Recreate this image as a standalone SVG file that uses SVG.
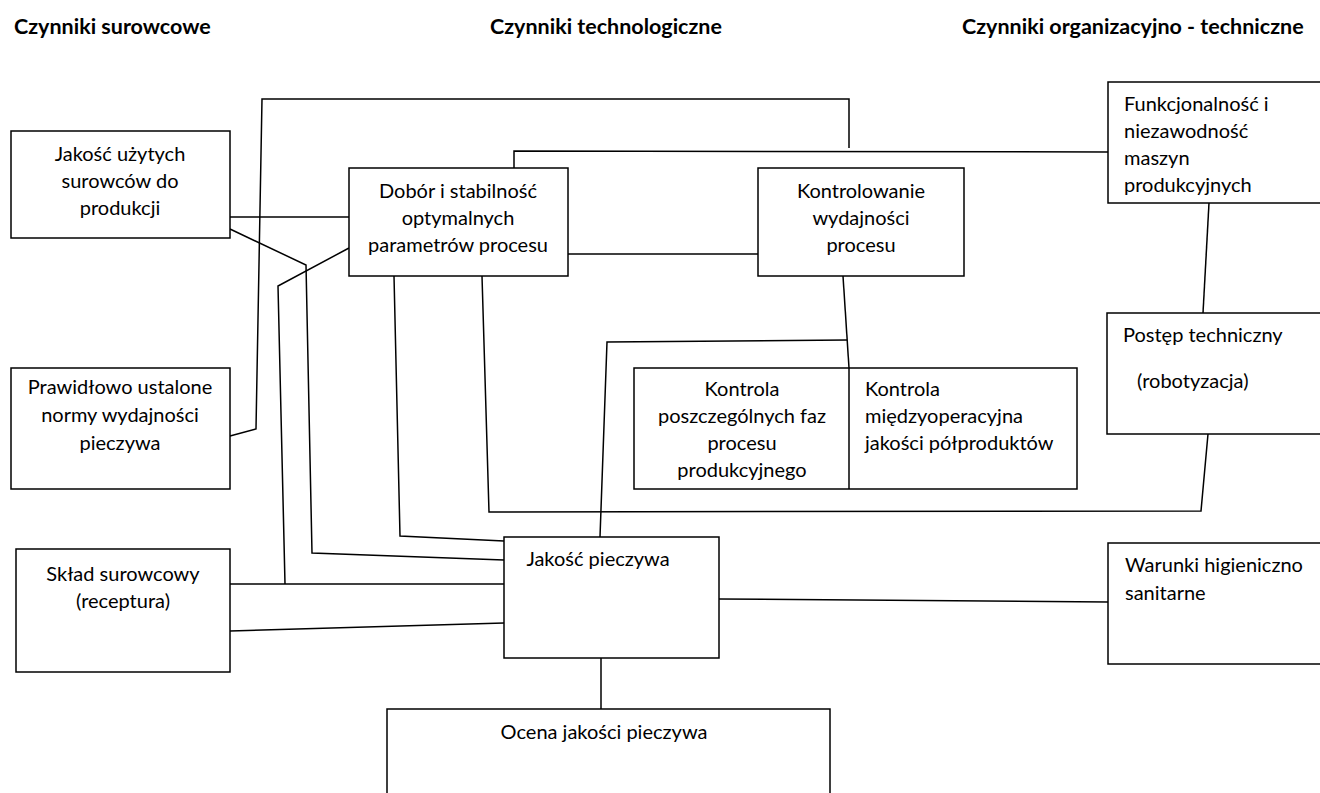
<svg xmlns="http://www.w3.org/2000/svg" width="1320" height="793" viewBox="0 0 1320 793">
<style>
.box{fill:#fff;stroke:#000;stroke-width:1.5}
.t{font-family:Lato,"Liberation Sans",sans-serif;font-size:20px;fill:#000}
.c{text-anchor:middle}
.h{font-family:Lato,"Liberation Sans",sans-serif;font-size:21.5px;font-weight:bold;fill:#000}
.ln{fill:none;stroke:#000;stroke-width:1.5}
</style>
<rect width="1320" height="793" fill="#fff"/>
<g id="titles">
<text class="h" x="14" y="34">Czynniki surowcowe</text>
<text class="h" x="490" y="34">Czynniki technologiczne</text>
<text class="h" x="962" y="34">Czynniki organizacyjno - techniczne</text>
</g>
<g id="connectors">
<polyline class="ln" points="230,436 256,429 262,99 849,99 849,148"/>
<polyline class="ln" points="514,168 514,151 1108,152"/>
<line class="ln" x1="230" y1="217" x2="349" y2="217"/>
<polyline class="ln" points="230,229 306,265 312,553 504,560"/>
<polyline class="ln" points="349,248 278,286 285,584"/>
<polyline class="ln" points="394,276 400,536 504,541"/>
<line class="ln" x1="568" y1="254" x2="758" y2="254"/>
<polyline class="ln" points="482,276 489,512 1201,511 1208,434"/>
<polyline class="ln" points="843,276 849,368"/>
<polyline class="ln" points="847,340 607,342 600,537"/>
<line class="ln" x1="1209" y1="203" x2="1203" y2="313"/>
<line class="ln" x1="230" y1="584" x2="504" y2="584"/>
<line class="ln" x1="230" y1="631" x2="504" y2="623"/>
<line class="ln" x1="719" y1="599" x2="1108" y2="602"/>
<line class="ln" x1="601" y1="658" x2="601" y2="709"/>
</g>
<g id="n-jakosc-surowcow">
<rect class="box" x="11" y="131" width="219" height="107"/>
<text class="t c" x="120" y="161">Jakość użytych</text>
<text class="t c" x="120" y="188">surowców do</text>
<text class="t c" x="120" y="215">produkcji</text>
</g>
<g id="n-normy">
<rect class="box" x="11" y="368" width="219" height="121"/>
<text class="t c" x="120" y="394">Prawidłowo ustalone</text>
<text class="t c" x="120" y="422">normy wydajności</text>
<text class="t c" x="120" y="450">pieczywa</text>
</g>
<g id="n-sklad">
<rect class="box" x="16" y="549" width="214" height="123"/>
<text class="t c" x="123" y="581">Skład surowcowy</text>
<text class="t c" x="123" y="608">(receptura)</text>
</g>
<g id="n-dobor">
<rect class="box" x="349" y="168" width="219" height="108"/>
<text class="t c" x="458" y="198">Dobór i stabilność</text>
<text class="t c" x="458" y="225">optymalnych</text>
<text class="t c" x="458" y="252">parametrów procesu</text>
</g>
<g id="n-kontrolowanie">
<rect class="box" x="758" y="168" width="206" height="108"/>
<text class="t c" x="861" y="198">Kontrolowanie</text>
<text class="t c" x="861" y="225">wydajności</text>
<text class="t c" x="861" y="252">procesu</text>
</g>
<g id="n-funkcjonalnosc">
<rect class="box" x="1108" y="82" width="214" height="121"/>
<text class="t" x="1124" y="111">Funkcjonalność i</text>
<text class="t" x="1124" y="138">niezawodność</text>
<text class="t" x="1124" y="165">maszyn</text>
<text class="t" x="1124" y="192">produkcyjnych</text>
</g>
<g id="n-postep">
<rect class="box" x="1107" y="313" width="215" height="121"/>
<text class="t" x="1123" y="342">Postęp techniczny</text>
<text class="t" x="1137" y="388">(robotyzacja)</text>
</g>
<g id="n-kontrola">
<rect class="box" x="634" y="368" width="443" height="121"/>
<line class="ln" x1="849" y1="368" x2="849" y2="489"/>
<text class="t c" x="742" y="396">Kontrola</text>
<text class="t c" x="742" y="423">poszczególnych faz</text>
<text class="t c" x="742" y="450">procesu</text>
<text class="t c" x="742" y="477">produkcyjnego</text>
<text class="t" x="865" y="396">Kontrola</text>
<text class="t" x="865" y="423">międzyoperacyjna</text>
<text class="t" x="865" y="450">jakości półproduktów</text>
</g>
<g id="n-jakosc-pieczywa">
<rect class="box" x="504" y="537" width="215" height="121"/>
<text class="t c" x="598" y="566">Jakość pieczywa</text>
</g>
<g id="n-warunki">
<rect class="box" x="1108" y="543" width="214" height="121"/>
<text class="t" x="1125" y="572">Warunki higieniczno</text>
<text class="t" x="1125" y="600">sanitarne</text>
</g>
<g id="n-ocena">
<rect class="box" x="387" y="709" width="443" height="100"/>
<text class="t c" x="604" y="739">Ocena jakości pieczywa</text>
</g>
</svg>
